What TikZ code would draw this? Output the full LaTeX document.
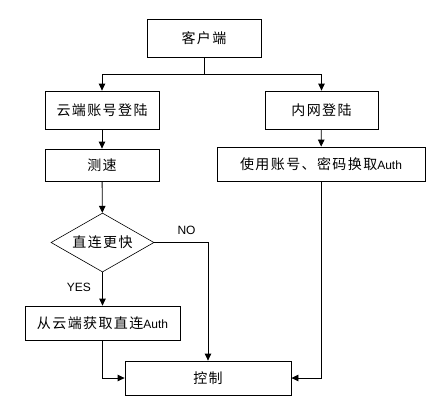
\documentclass[tikz,border=0pt]{standalone}
\usepackage{fontspec}
\setmainfont{Liberation Sans}
\newfontfamily\cjk[LetterSpace=10]{Noto Sans CJK SC}
\usetikzlibrary{positioning,shapes.geometric,arrows.meta}

\begin{document}
\begin{tikzpicture}[x=1pt,y=-1pt,font=\fontsize{12}{14}\selectfont,
  stepbox/.style={rectangle,draw=black,line width=0.8pt,inner sep=0pt},
  choice/.style={diamond,draw=black,line width=0.6pt,inner sep=0pt,aspect=1.75},
  link/.style={-{Triangle[length=7pt,width=6.5pt]},line width=0.8pt}]
  \useasboundingbox (0,0) rectangle (435,416);

  \node [stepbox,minimum width=114pt,minimum height=38pt] (client) at (204,38) {\cjk\fontsize{14}{16}\selectfont 客户端};
  \coordinate (split) at (204,74);

  \node [stepbox,minimum width=114pt,minimum height=38pt] (cloud) at (102,110) {\cjk\fontsize{14}{16}\selectfont 云端账号登陆};
  \node [stepbox,minimum width=114pt,minimum height=32pt] (speed) at (102,165) {\cjk\fontsize{14}{16}\selectfont 测速};
  \node [choice,minimum width=103pt,minimum height=59pt] (faster) at (102.5,242.5) {\cjk\fontsize{14}{16}\selectfont 直连更快};
  \node [stepbox,minimum width=155pt,minimum height=34pt] (direct) at (102.5,323) {{\cjk\fontsize{14}{16}\selectfont 从云端获取直连}Auth};

  \node [stepbox,minimum width=113pt,minimum height=38pt] (lan) at (321.5,110) {\cjk\fontsize{14}{16}\selectfont 内网登陆};
  \node [stepbox,minimum width=208pt,minimum height=34pt] (auth) at (321,164) {{\cjk\fontsize{14}{16}\selectfont 使用账号、密码换取}Auth};

  \node [stepbox,minimum width=166pt,minimum height=34pt] (control) at (208,378) {\cjk\fontsize{14}{16}\selectfont 控制};

  \draw [line width=0.8pt] (client) -- (split);
  \draw [link] (split) -| (cloud);
  \draw [link] (split) -| (lan);
  \draw [link] (cloud) -- (speed);
  \draw [link] (lan) -- (auth);
  \draw [link] (speed) -- (faster);
  \draw [link] (faster) -- node [left=8pt,pos=0.45] (yes) {YES} (direct);
  \draw [link] (faster) -| (control);
  \node (no) at (186.5,230) {NO};
  \draw [link] (direct) |- (control);
  \draw [link] (auth) |- (control);
\end{tikzpicture}
\end{document}
